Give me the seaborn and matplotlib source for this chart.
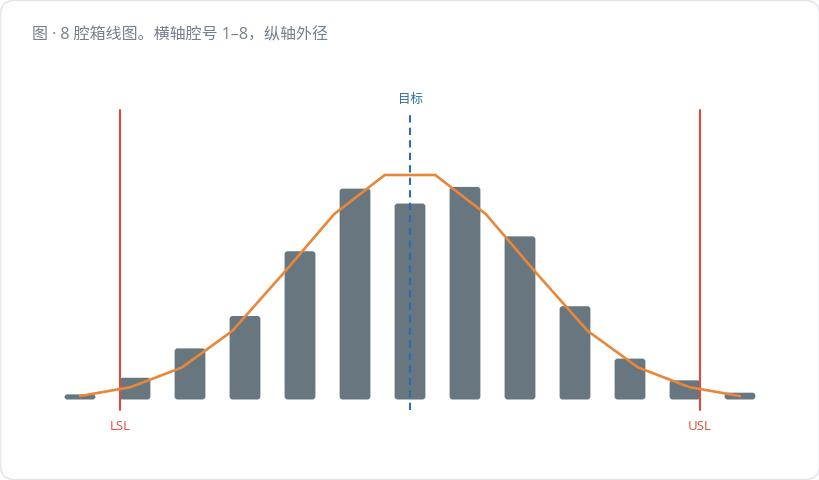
import matplotlib
matplotlib.use("Agg")
import matplotlib.pyplot as plt
from matplotlib.patches import FancyBboxPatch
from matplotlib.transforms import IdentityTransform
import pandas as pd
import seaborn as sns

# ============================
# DATA
# ============================

# histogram of outer diameter (bin centres) and counts
bin_centers = [9.94, 9.95, 9.96, 9.97, 9.98, 9.99, 10.00,
               10.01, 10.02, 10.03, 10.04, 10.05, 10.06]
counts = [1.2, 5.1, 12.0, 19.6, 34.8, 49.5, 46.0,
          49.9, 38.3, 21.9, 9.6, 4.5, 1.6]

# fitted curve
curve_x = [9.9400, 9.9492, 9.9585, 9.9677, 9.9769, 9.9862, 9.9954,
           10.0046, 10.0138, 10.0231, 10.0323, 10.0415, 10.0508, 10.0600]
curve_y = [0.8, 2.9, 7.5, 16.1, 29.5, 43.5, 52.7,
           52.7, 43.5, 29.5, 16.1, 7.5, 2.9, 0.8]

LSL = 9.9473
USL = 10.0527
TARGET = 10.00
LINE_TOP = 68.0

TITLE = "图 · 8 腔箱线图。横轴腔号 1–8，纵轴外径"

BAR_COLOR = "#67767f"
CURVE_COLOR = "#e8873a"
SPEC_COLOR = "#e24a3b"
TARGET_COLOR = "#2b6cb3"
TITLE_COLOR = "#74808e"

# ============================
# FIGURE
# ============================

sns.set_theme(style="white")
plt.rcParams["font.family"] = ["Open Sans", "Noto Sans CJK SC", "DejaVu Sans"]

W, H = 820, 480
fig = plt.figure(figsize=(W / 100, H / 100), dpi=100)
fig.patch.set_facecolor("white")

# card
card = FancyBboxPatch((0.5, 0.5), W - 1, H - 1,
                      boxstyle="round,pad=0,rounding_size=14",
                      transform=IdentityTransform(),
                      facecolor="white", edgecolor="#e4e7eb", linewidth=1.2,
                      zorder=-10)
fig.patches.append(card)

ax = fig.add_axes([0, 0, 1, 1])
ax.patch.set_visible(False)

df = pd.DataFrame({"diameter": bin_centers, "count": counts})
sns.barplot(data=df, x="diameter", y="count", native_scale=True,
            width=0.56, color=BAR_COLOR, saturation=1, errorbar=None, ax=ax)

sns.lineplot(x=curve_x, y=curve_y, color=CURVE_COLOR, linewidth=1.9,
             estimator=None, ax=ax, zorder=4)

# map data so that bin 9.94 sits at x=80px, baseline at y=80.5px from bottom
x_px = 5500.0   # px per unit
y_px = 4.26     # px per count
ax.set_xlim(9.94 - 80 / x_px, 9.94 + (W - 80) / x_px)
ax.set_ylim(-(H - 399.5) / y_px, 399.5 / y_px)
ax.axis("off")

# rounded bars
bars = [p for p in ax.patches]
for p in bars:
    x, y = p.get_x(), p.get_y()
    w, h = p.get_width(), p.get_height()
    r = min(3.0, h * y_px / 2) / x_px
    aspect = x_px / y_px
    rb = FancyBboxPatch((x, y), w, h,
                        boxstyle=f"round,pad=0,rounding_size={r}",
                        mutation_aspect=aspect,
                        facecolor=BAR_COLOR, edgecolor="none", zorder=2)
    p.remove()
    ax.add_patch(rb)

# spec limits and target
y_bot = -10.5 / y_px
for xv, lab in [(LSL, "LSL"), (USL, "USL")]:
    ax.plot([xv, xv], [y_bot, LINE_TOP], color=SPEC_COLOR, linewidth=1.5, zorder=3)
    ax.text(xv, -27 / y_px, lab, color=SPEC_COLOR, fontsize=9.5,
            ha="center", va="center")

ax.plot([TARGET, TARGET], [y_bot, LINE_TOP], color=TARGET_COLOR,
        linewidth=1.5, linestyle=(0, (3.5, 2.5)), zorder=5)
ax.text(TARGET, (399.5 - 99.5) / y_px, "目标", color=TARGET_COLOR, fontsize=9,
        ha="center", va="center")

fig.text(32 / W, 1 - 35 / H, TITLE, color=TITLE_COLOR, fontsize=11.5,
         ha="left", va="center")

fig.savefig("out.png", dpi=100)
plt.close(fig)
